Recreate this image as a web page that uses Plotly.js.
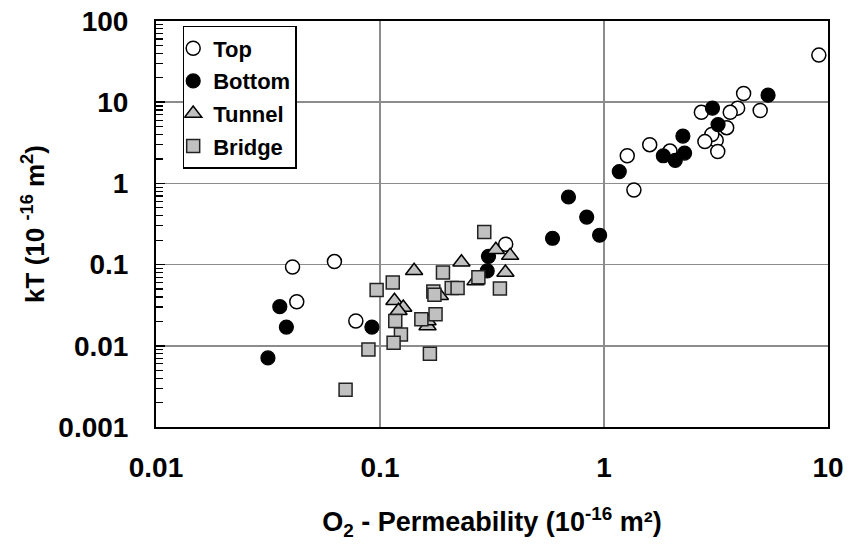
<!DOCTYPE html>
<html><head><meta charset="utf-8">
<script src="https://cdn.plot.ly/plotly-3.0.1.min.js"></script>
<style>html,body{margin:0;padding:0;background:#fff}</style>
</head><body><div id="chart" style="width:849px;height:545px"></div>
<script>
// Series names
const seriesNames = ['Top', 'Bottom', 'Tunnel', 'Bridge'];

// Top (open circles)
const topX = [9.1, 4.2, 4.98, 3.95, 3.66, 2.72, 3.53, 3.17, 3.03, 2.82, 3.22, 1.60, 1.97, 1.27, 1.36, 0.364, 0.0626, 0.0407, 0.0425, 0.078];
const topY = [38, 12.8, 7.9, 8.45, 7.5, 7.5, 4.86, 3.39, 4.0, 3.27, 2.47, 3.0, 2.5, 2.19, 0.83, 0.178, 0.109, 0.0935, 0.0349, 0.0202];

// Bottom (filled circles)
const bottomX = [5.4, 3.05, 3.23, 2.25, 2.29, 1.84, 2.08, 1.17, 0.694, 0.837, 0.956, 0.589, 0.305, 0.301, 0.0357, 0.0382, 0.092, 0.0316];
const bottomY = [12.2, 8.45, 5.3, 3.83, 2.36, 2.19, 1.92, 1.40, 0.68, 0.385, 0.23, 0.211, 0.126, 0.0836, 0.0303, 0.0170, 0.0170, 0.0071];

// Tunnel (triangles)
const tunnelX = [0.329, 0.381, 0.363, 0.231, 0.142, 0.267, 0.116, 0.127, 0.163, 0.163, 0.185, 0.121];
const tunnelY = [0.152, 0.129, 0.080, 0.107, 0.084, 0.063, 0.0358, 0.0296, 0.0175, 0.0202, 0.0413, 0.027];

// Bridge (squares)
const bridgeX = [0.292, 0.191, 0.275, 0.343, 0.209, 0.222, 0.173, 0.175, 0.114, 0.0966, 0.177, 0.153, 0.117, 0.124, 0.115, 0.0888, 0.167, 0.0702];
const bridgeY = [0.252, 0.080, 0.0697, 0.0509, 0.0514, 0.0514, 0.0467, 0.0425, 0.0604, 0.0485, 0.0244, 0.0212, 0.0202, 0.0138, 0.0109, 0.0090, 0.0080, 0.00288];

// Tick labels
const xTickVals = [0.01, 0.1, 1, 10];
const xTickText = ['0.01', '0.1', '1', '10'];
const yTickVals = [0.001, 0.01, 0.1, 1, 10, 100];
const yTickText = ['0.001', '0.01', '0.1', '1', '10', '100'];
const yMinorMultipliers = [2, 3, 4, 5, 6, 7, 8, 9];

// minor tick positions on the log y axis (2..9 within each decade)
const yMinorVals = [];
yTickVals.slice(0, -1).forEach(d => yMinorMultipliers.forEach(m => yMinorVals.push(d * m)));

const FONT = 'Liberation Sans, Arial, sans-serif';
const GRAY = '#c0c0c0';

const traces = [
  { x: topX, y: topY, name: seriesNames[0], legendgroup: 'a', type: 'scatter', mode: 'markers',
    marker: { symbol: 'circle', size: 14, color: '#ffffff', line: { color: '#000000', width: 1.5 } } },
  { x: bottomX, y: bottomY, name: seriesNames[1], legendgroup: 'b', type: 'scatter', mode: 'markers',
    marker: { symbol: 'circle', size: 14, color: '#000000', line: { color: '#000000', width: 1.2 } } },
  { x: tunnelX, y: tunnelY, name: seriesNames[2], legendgroup: 'c', type: 'scatter', mode: 'markers',
    marker: { symbol: 'triangle-up', size: 15, color: GRAY, line: { color: '#000000', width: 1.5 } } },
  { x: bridgeX, y: bridgeY, name: seriesNames[3], legendgroup: 'd', type: 'scatter', mode: 'markers',
    marker: { symbol: 'square', size: 13, color: GRAY, line: { color: '#222222', width: 1.5 } } }
];

const layout = {
  width: 849, height: 545,
  margin: { l: 156, r: 21, t: 21, b: 118 },
  paper_bgcolor: '#ffffff', plot_bgcolor: '#ffffff',
  font: { family: FONT, color: '#000000', weight: 700 },
  showlegend: true,
  legend: {
    x: 0.0397, y: 0.9877, xanchor: 'left', yanchor: 'top',
    bgcolor: '#ffffff', bordercolor: '#000000', borderwidth: 1.5,
    font: { family: FONT, size: 22, color: '#000000', weight: 700 },
    tracegroupgap: 1, itemwidth: 30, indentation: -11
  },
  xaxis: {
    type: 'log', range: [-2, 1],
    tickmode: 'array', tickvals: xTickVals, ticktext: xTickText,
    ticks: '', ticklabelstandoff: 14,
    tickfont: { family: FONT, size: 28, weight: 700 },
    showgrid: true, gridcolor: '#8c8c8c', gridwidth: 1.5,
    showline: true, linecolor: '#000000', linewidth: 2, mirror: true,
    zeroline: false, automargin: false,
    title: { text: 'O<sub>2</sub> - Permeability (10<sup>-16</sup> m²)', standoff: 31,
             font: { family: FONT, size: 27, weight: 700 } }
  },
  yaxis: {
    type: 'log', range: [-3, 2],
    tickmode: 'array', tickvals: yTickVals, ticktext: yTickText,
    ticks: 'inside', ticklen: 9, tickwidth: 1.5, tickcolor: '#000000',
    minor: { ticks: 'inside', ticklen: 7, tickwidth: 1.2, tickcolor: '#000000',
             tickmode: 'array', tickvals: yMinorVals, showgrid: false },
    ticklabelstandoff: 20,
    tickfont: { family: FONT, size: 28, weight: 700 },
    showgrid: true, gridcolor: '#8c8c8c', gridwidth: 1.5,
    showline: true, linecolor: '#000000', linewidth: 2, mirror: true,
    zeroline: false, automargin: false,
    title: { text: 'kT (10 <sup>-16</sup> m<sup>2</sup>)', standoff: 6,
             font: { family: FONT, size: 26, weight: 700 } }
  }
};

Plotly.newPlot('chart', traces, layout, { displayModeBar: false, staticPlot: true });
</script></body></html>
